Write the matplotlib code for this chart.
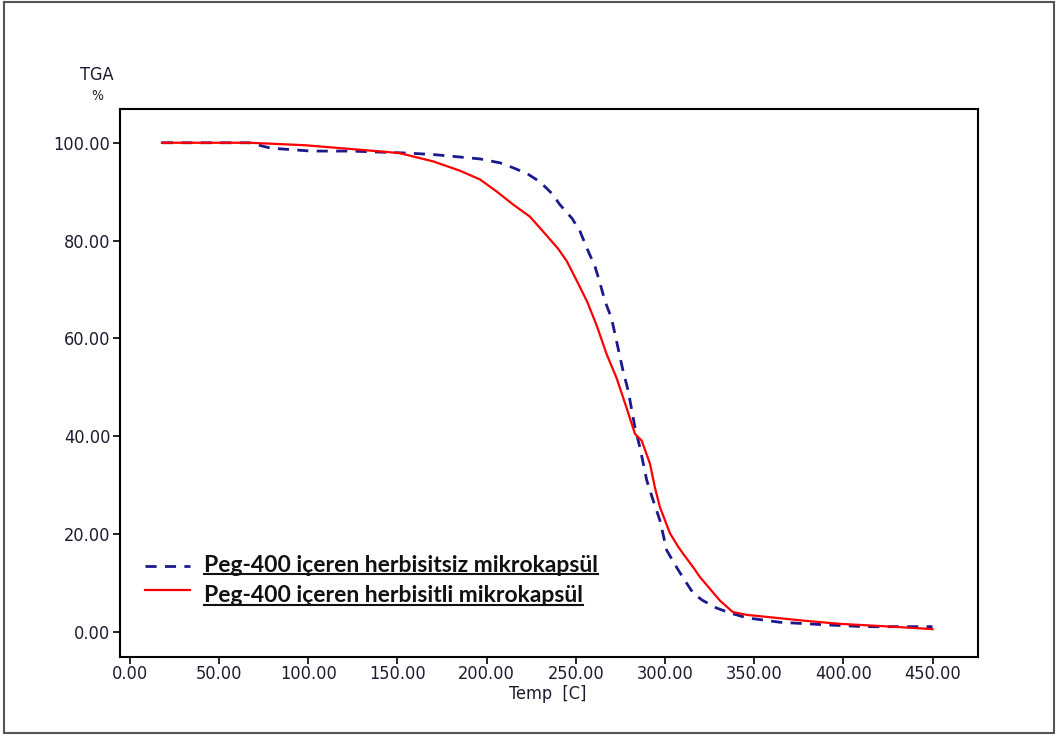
import matplotlib.pyplot as plt
from matplotlib.patches import Rectangle

# Peg-400 içeren herbisitsiz mikrokapsül (blue, dashed)
temp_a = [18, 67, 79, 101.5, 124, 155, 170, 196.3, 207.5, 214.8, 222.7, 230, 236.7, 241, 248,
          252.4, 256.3, 260.8, 263.6, 266.4, 270, 272, 276.5, 279.4, 283.2, 286, 289.8, 293.4,
          297.2, 301, 306.6, 310, 315.9, 321, 329, 336.5, 346, 364.5, 389, 412, 450]
tga_a = [100, 100, 98.9, 98.3, 98.3, 97.9, 97.6, 96.7, 95.9, 94.9, 93.7, 92, 89.6, 87.4, 84.5,
         81.9, 78.4, 74.7, 71.3, 67.6, 64.2, 60.9, 53.4, 49.3, 41.8, 37.7, 31, 26.9,
         22.8, 16.7, 13.2, 11.2, 7.9, 6.5, 4.9, 3.9, 2.9, 2.0, 1.5, 1.1, 1.1]

# Peg-400 içeren herbisitli mikrokapsül (red, solid)
temp_b = [18, 67, 98, 128, 151, 170, 185, 196.3, 205.8, 214.8, 224.3, 231.6, 240, 245, 250.7,
          256.3, 261.9, 267.3, 272.9, 278.5, 283.2, 287, 291.6, 294.4, 297.2, 302.8, 307.3, 310,
          315.9, 319.7, 330.9, 338, 346, 357, 375.8, 397, 427, 450]
tga_b = [100, 100, 99.5, 98.6, 97.9, 96.2, 94.3, 92.5, 90, 87.4, 84.9, 81.9, 78.4, 75.8, 71.7,
         67.6, 62.5, 56.8, 51.9, 45.8, 40.5, 39.1, 34.4, 29.5, 25.5, 20.2, 17.5, 16.1,
         13.2, 11.2, 6.4, 4.1, 3.5, 3.1, 2.4, 1.7, 1.1, 0.6]

label_a = "Peg-400 içeren herbisitsiz mikrokapsül"
label_b = "Peg-400 içeren herbisitli mikrokapsül"

x_ticks = [0, 50, 100, 150, 200, 250, 300, 350, 400, 450]
y_ticks = [0, 20, 40, 60, 80, 100]

tick_font = ['DejaVu Sans']
tick_kw = dict(family=tick_font, fontstretch="condensed", fontsize=13, color="#1c1c30")

fig = plt.figure(figsize=(10.59, 7.36), dpi=100)
fig.patches.append(Rectangle((0.004, 0.004), 0.991, 0.993, transform=fig.transFigure,
                             fill=False, edgecolor="#555555", linewidth=1.5))

ax = fig.add_axes([120 / 1059, 1 - 657 / 736, (978 - 120) / 1059, (657 - 109) / 736])

ax.plot(temp_a, tga_a, color="#1a1a8c", linestyle=(0, (4, 3)), linewidth=2)
ax.plot(temp_b, tga_b, color="#ff0000", linewidth=1.6)

ax.set_xlim(-5.5, 475.5)
ax.set_ylim(-5.1, 106.9)
ax.set_xticks(x_ticks)
ax.set_yticks(y_ticks)
ax.set_xticklabels([f"{v:.2f}" for v in x_ticks], **tick_kw)
ax.set_yticklabels([f"{v:.2f}" for v in y_ticks], **tick_kw)
ax.tick_params(direction="out", length=5, width=1.2, pad=2)
ax.tick_params(axis="x", pad=0.5)
for s in ax.spines.values():
    s.set_linewidth(1.5)

fig.text(97 / 1059, 1 - 75 / 736, "TGA", ha="center", va="center", **tick_kw)
fig.text(97 / 1059, 1 - 96 / 736, "%", ha="center", va="center",
         **{**tick_kw, "fontsize": 10})
fig.text(548 / 1059, 1 - 694 / 736, "Temp  [C]", ha="center", va="center", **tick_kw)

# legend drawn by hand, with underlined labels
legend_font = ['Lato', 'DejaVu Sans']
fig.add_artist(plt.Line2D([145 / 1059, 190 / 1059], [1 - 566 / 736, 1 - 566 / 736],
                          color="#1a1a8c", linestyle=(0, (4, 3)), linewidth=2))
fig.add_artist(plt.Line2D([145 / 1059, 190 / 1059], [1 - 590 / 736, 1 - 590 / 736],
                          color="#ff0000", linewidth=1.6))
texts = []
for lab, yy in [(label_a, 565), (label_b, 596)]:
    t = fig.text(204 / 1059, 1 - yy / 736, lab, family=legend_font, fontsize=16.5,
                 fontweight="bold", color="#111111", ha="left", va="center")
    texts.append(t)

fig.canvas.draw()
r = fig.canvas.get_renderer()
inv = fig.transFigure.inverted()
for t in texts:
    bb = t.get_window_extent(r)
    (x0, y0), (x1, y1) = inv.transform([(bb.x0, bb.y0), (bb.x1, bb.y1)])
    fig.add_artist(plt.Line2D([x0, x1], [y0 + 0.002, y0 + 0.002], color="#111111", linewidth=1.5))

fig.savefig("out.png", dpi=100)
